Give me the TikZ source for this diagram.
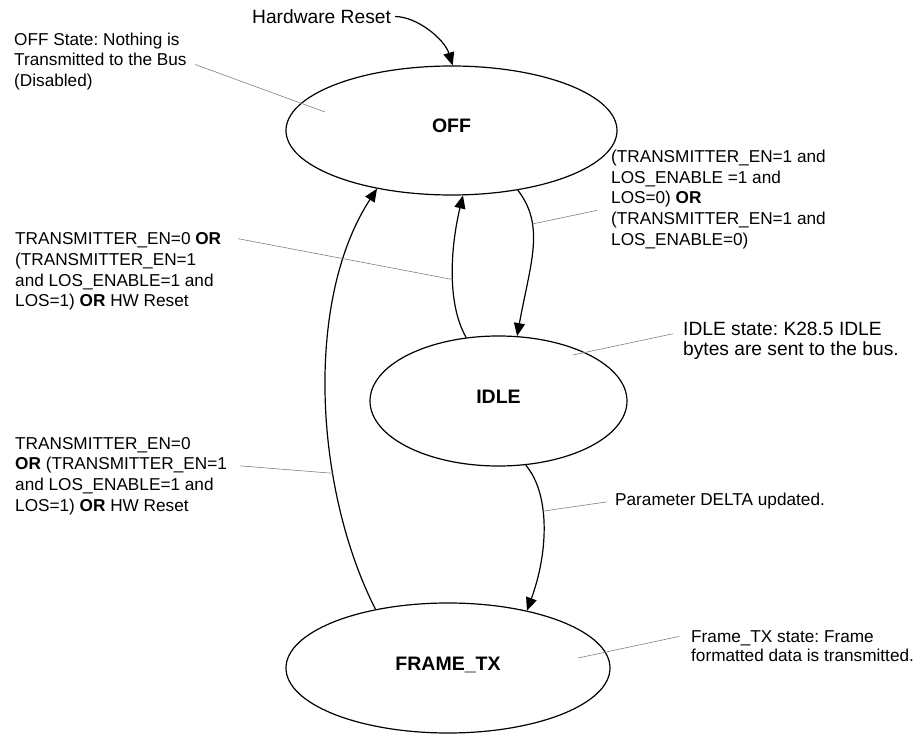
\documentclass[tikz,border=0pt]{standalone}
\usepackage{fontspec}
\setmainfont{Liberation Sans}
\usetikzlibrary{%
shapes.geometric,%
arrows.meta}
\frenchspacing

\tikzset{
  state/.style={ellipse,draw,line width=1.2pt,inner sep=0pt,
    font=\fontsize{19.5}{20}\selectfont\bfseries,text height=14pt,text depth=9pt},
  note/.style={align=left,inner sep=0pt,anchor=north west,
    font=\fontsize{17.2}{20.7}\selectfont},
  bignote/.style={note,font=\fontsize{19.2}{19.5}\selectfont},
  trans/.style={-{Triangle[length=13pt,width=11pt]},line width=1.2pt},
  callout/.style={gray,line width=0.6pt}
}

\begin{document}
\begin{tikzpicture}[x=1pt,y=-1pt]
\useasboundingbox (0,0) rectangle (914,735);

\node[state,minimum width=331pt,minimum height=129pt] (off) at (451.5,130.5) {OFF};
\node[state,minimum width=257pt,minimum height=130pt] (idle) at (498.5,401) {IDLE};
\node[state,minimum width=324pt,minimum height=130pt] (frametx) at (448,668) {FRAME\_TX};

\node[bignote] (hwreset) at (252,9.3) {Hardware Reset};
\node[note] (offnote) at (14,32.5) {OFF State: Nothing is\\Transmitted to the Bus\\(Disabled)};
\node[note] (enablenote) at (611,149.8) {(TRANSMITTER\_EN=1 and\\LOS\_ENABLE =1 and\\LOS=0) \textbf{OR}\\(TRANSMITTER\_EN=1 and\\LOS\_ENABLE=0)};
\node[note] (disablenote) at (15,232.5) {TRANSMITTER\_EN=0 \textbf{OR}\\(TRANSMITTER\_EN=1\\and LOS\_ENABLE=1 and\\LOS=1) \textbf{OR} HW Reset};
\node[note] (abortnote) at (15,436.8) {TRANSMITTER\_EN=0\\\textbf{OR} (TRANSMITTER\_EN=1\\and LOS\_ENABLE=1 and\\LOS=1) \textbf{OR} HW Reset};
\node[note] (deltanote) at (615,492.5) {Parameter DELTA updated.};
\node[bignote] (idlenote) at (683,322) {IDLE state: K28.5 IDLE\\bytes are sent to the bus.};
\node[note,font=\fontsize{17.2}{19}\selectfont] (framenote) at (691,630.2) {Frame\_TX state: Frame\\formatted data is transmitted.};

\draw[trans,shorten <=4pt] (hwreset.east) .. controls +(26,0) and +(-8,-26) .. (off.89);
\draw[trans] (off.-42) .. controls +(28,36) and +(13,-72) .. (idle.74) coordinate[pos=0.3] (enablept);
\draw[trans] (idle.117) .. controls +(-20,-35) and +(-12,50) .. (off.-80) coordinate[pos=0.45] (disablept);
\draw[trans] (frametx.141) .. controls +(-61,-120) and +(-73,112) .. (off.-142) coordinate[pos=0.33] (abortpt);
\draw[trans] (idle.-67) .. controls +(24,28) and +(22,-60) .. (frametx.36) coordinate[pos=0.4] (deltapt);

\coordinate (offpt) at (325,112);
\coordinate (idlept) at (573,355);
\coordinate (framept) at (578,658);
\draw[callout,shorten <=9pt] (offnote.east) -- (offpt);
\draw[callout,shorten <=14pt] ([yshift=-8pt]enablenote.west) -- (enablept);
\draw[callout,shorten <=17pt] ([yshift=-3pt]disablenote.north east) -- (disablept);
\draw[callout,shorten <=13pt] ([yshift=11pt]abortnote.east) -- (abortpt);
\draw[callout,shorten <=8pt] (deltanote.west) -- (deltapt);
\draw[callout,shorten <=10pt] ([yshift=9pt]idlenote.west) -- (idlept);
\draw[callout,shorten <=12pt] ([yshift=12pt]framenote.west) -- (framept);

\end{tikzpicture}
\end{document}
